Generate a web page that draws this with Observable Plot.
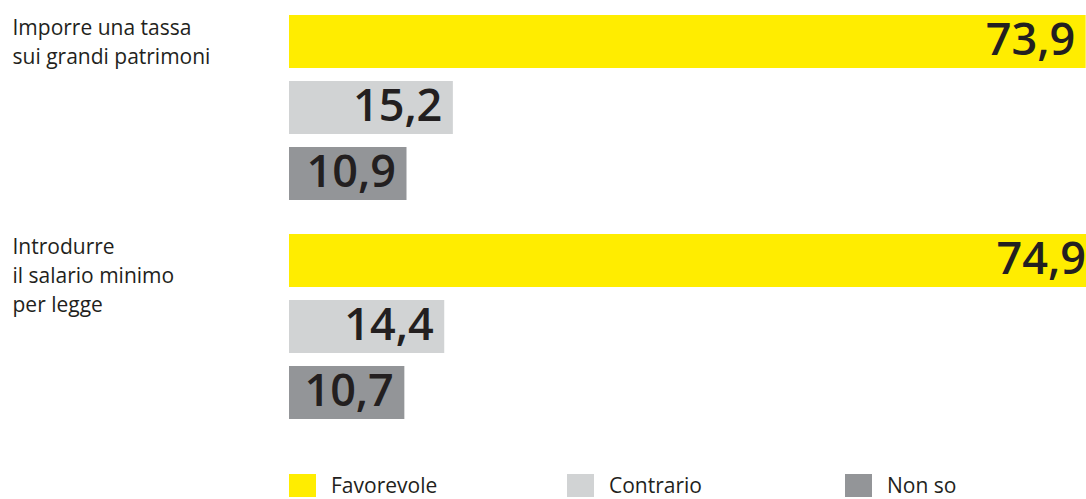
<!DOCTYPE html>
<html>
<head>
<meta charset="utf-8">
<script src="https://cdn.jsdelivr.net/npm/d3@7"></script>
<script src="https://cdn.jsdelivr.net/npm/@observablehq/plot@0.6"></script>
<style>
  html, body { margin: 0; padding: 0; background: #fff; }
  body { font-family: "Open Sans", sans-serif; color: #231f20; width: 1086px; height: 499px; overflow: hidden; }
  #chart svg { display: block; }
  #legend { position: relative; height: 25px; margin-top: 44px; }
  .item { position: absolute; top: 0; display: flex; align-items: center; font-size: 21px; line-height: 23px; }
  .sw { width: 27px; height: 23px; margin-right: 15px; }
</style>
</head>
<body>
<div id="chart"></div>
<div id="legend"></div>
<script>
const groups = ["Imporre una tassa\nsui grandi patrimoni", "Introdurre\nil salario minimo\nper legge"];
const answers = ["Favorevole", "Contrario", "Non so"];
const tassa = [73.9, 15.2, 10.9];
const salario = [74.9, 14.4, 10.7];
const colors = ["#FFED00", "#D1D3D4", "#939598"];

const series = [tassa, salario];
const rows = [];
groups.forEach((g, gi) => answers.forEach((a, ai) => rows.push({group: g, answer: a, value: series[gi][ai]})));
const fmt = v => v.toFixed(1).replace(".", ",");

const plot = Plot.plot({
  width: 1086,
  height: 430,
  marginTop: 14,
  marginBottom: 10,
  marginLeft: 289,
  marginRight: 0,
  x: {domain: [0, 80], range: [289, 289 + 80 * 10.78], axis: null},
  y: {domain: answers, paddingInner: 0.2, paddingOuter: 0, axis: null},
  fy: {domain: groups, paddingInner: 0.1475, paddingOuter: 0, axis: null},
  color: {domain: answers, range: colors},
  style: {fontFamily: "Open Sans, sans-serif", color: "#231f20"},
  marks: [
    Plot.barX(rows, {x: "value", y: "answer", fy: "group", fill: "answer", clip: true}),
    Plot.text(rows, {x: "value", y: "answer", fy: "group", text: d => fmt(d.value),
      textAnchor: "end", dx: -11, dy: -1, fontSize: 45, fontWeight: 600, fill: "#231f20"}),
    Plot.text(groups, {fy: d => d, text: d => d, frameAnchor: "top-left", textAnchor: "start",
      lineAnchor: "top", dx: -277, dy: 0, fontSize: 21, lineHeight: 1.38, fill: "#231f20"})
  ]
});
document.getElementById("chart").appendChild(plot);

const legend = document.getElementById("legend");
const legendX = [289, 567, 845];
answers.forEach((a, i) => {
  const it = document.createElement("div");
  it.className = "item";
  it.style.left = legendX[i] + "px";
  const sw = document.createElement("div");
  sw.className = "sw";
  sw.style.background = colors[i];
  const t = document.createElement("span");
  t.textContent = a;
  it.appendChild(sw);
  it.appendChild(t);
  legend.appendChild(it);
});
</script>
</body>
</html>
